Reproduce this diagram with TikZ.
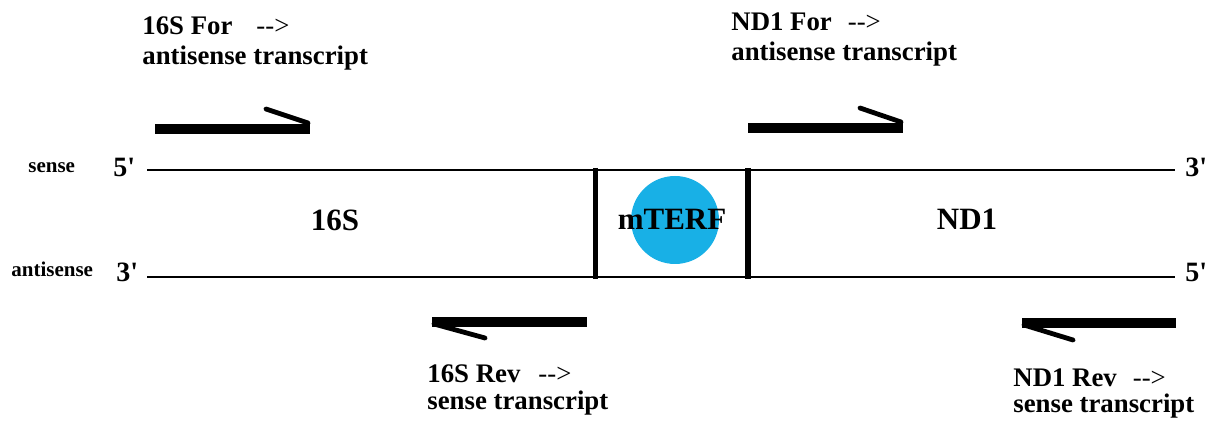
\documentclass[tikz,border=0pt]{standalone}
\usepackage{fontspec}
\setmainfont[Ligatures=TeXOff]{Liberation Serif}
\definecolor{mterfblue}{RGB}{24,176,230}
\newcommand{\tofwd}{{\mdseries-->}}
\begin{document}
\begin{tikzpicture}
  [x=0.5pt, y=-0.5pt,
   strand/.style={line width=1pt, draw=black},
   wall/.style={line width=2.6pt, draw=black},
   primer/.style={line width=4.8pt, draw=black},
   barb/.style={line width=2.4pt, draw=black, line cap=round},
   note/.style={inner sep=0pt, anchor=base west, font=\fontsize{13.4}{15}\selectfont\bfseries},
   gene/.style={inner sep=0pt, anchor=base, font=\fontsize{15.5}{18}\selectfont\bfseries},
   end/.style={inner sep=0pt, anchor=base west, font=\fontsize{14}{16}\selectfont\bfseries},
   strandname/.style={inner sep=0pt, anchor=base west, font=\fontsize{10.5}{12}\selectfont\bfseries}]
  \useasboundingbox (0,0) rectangle (1210,421);

  % Strands
  \draw[strand] (147,170) -- (1175,170);
  \draw[strand] (147,277) -- (1175,277);
  \node[strandname] (sense) at (28,173) {sense};
  \node[strandname] (antisense) at (11,277) {antisense};
  \node[end] (s5) at (113,177) {5'};
  \node[end] (s3) at (1185,177) {3'};
  \node[end] (a3) at (116,282) {3'};
  \node[end] (a5) at (1185,282) {5'};

  % mTERF site
  \fill[mterfblue] (675,220) circle (44);
  \draw[wall] (595.5,168) -- (595.5,279);
  \draw[wall] (748,168) -- (748,279);
  \node[gene] (mterf) at (672,230) {mTERF};
  \node[gene] (g16s) at (335,231) {16S};
  \node[gene] (gnd1) at (967,230) {ND1};

  % Primers
  \draw[primer] (155,129) -- (310,129);
  \draw[barb] (266,109) -- (308,123);
  \draw[primer] (748,128) -- (903,128);
  \draw[barb] (860,108) -- (901,122);
  \draw[primer] (432,322) -- (587,322);
  \draw[barb] (434,324) -- (485,338);
  \draw[primer] (1022,323) -- (1176,323);
  \draw[barb] (1024,325) -- (1073,340);

  % Primer labels
  \node[note] (for16a) at (142,35) {16S For\hspace{12pt}\tofwd};
  \node[note] (for16b) at (142,65) {antisense transcript};
  \node[note] (fornda) at (731,31) {ND1 For\hspace{8pt}\tofwd};
  \node[note] (forndb) at (731,61) {antisense transcript};
  \node[note] (rev16a) at (427,383) {16S Rev\hspace{9pt}\tofwd};
  \node[note] (rev16b) at (427,410) {sense transcript};
  \node[note] (revnda) at (1013,387) {ND1 Rev\hspace{8pt}\tofwd};
  \node[note] (revndb) at (1013,413) {sense transcript};
\end{tikzpicture}
\end{document}
